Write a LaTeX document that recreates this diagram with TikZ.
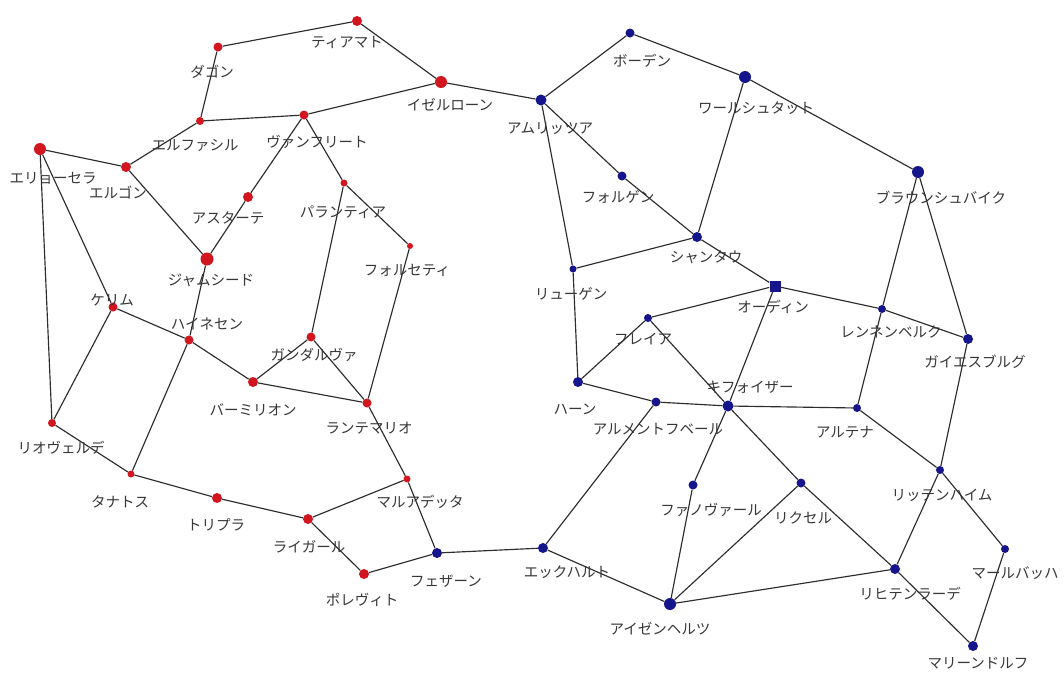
\documentclass[tikz,border=0pt]{standalone}
\usepackage{fontspec}
\newfontfamily\jp{Noto Sans CJK JP}
\definecolor{nred}{RGB}{210,22,32}
\definecolor{nblue}{RGB}{22,22,140}
\definecolor{edgec}{RGB}{45,45,45}
\definecolor{labc}{RGB}{55,55,55}
\begin{document}
\begin{tikzpicture}[x=1pt,y=-1pt,
  dot/.style={circle,inner sep=0pt,draw=none},
  R/.style={dot,fill=nred,minimum size=#1},
  B/.style={dot,fill=nblue,minimum size=#1},
  BS/.style={rectangle,inner sep=0pt,draw=none,fill=nblue,minimum size=#1},
  lab/.style={inner sep=0pt,font=\jp\fontsize{14.5}{15}\selectfont,text=labc},
  edge/.style={draw=edgec,line width=1.15pt}]
\useasboundingbox[fill=white] (0,0) rectangle (1064,673);
% red nodes
\node[R=10pt] (ti) at (357,21) {};
\node[R=9pt]  (da) at (218,47) {};
\node[R=12pt] (iz) at (441,82) {};
\node[R=8pt]  (ef) at (200,121) {};
\node[R=9pt]  (va) at (304,115) {};
\node[R=12pt] (er) at (40,149) {};
\node[R=10pt] (eg) at (126,167) {};
\node[R=10pt] (as) at (248,197) {};
\node[R=7pt]  (pa) at (344,183) {};
\node[R=6pt]  (fo) at (410,246) {};
\node[R=13pt] (ja) at (207,259) {};
\node[R=9pt]  (ke) at (113,307) {};
\node[R=9pt]  (ha) at (189,340) {};
\node[R=9pt]  (ga) at (311,337) {};
\node[R=10pt] (ba) at (253,382) {};
\node[R=9pt]  (ra) at (367,403) {};
\node[R=8pt]  (ri) at (52,423) {};
\node[R=7pt]  (ta) at (131,474) {};
\node[R=10pt] (tr) at (217,498) {};
\node[R=7pt]  (ma) at (407,479) {};
\node[R=10pt] (lg) at (308,519) {};
\node[R=10pt] (po) at (364,574) {};
% blue nodes
\node[B=10pt] (fe) at (437,553) {};
\node[B=9pt]  (bo) at (630,33) {};
\node[B=12pt] (wa) at (745,77) {};
\node[B=11pt] (am) at (541,100) {};
\node[B=9pt]  (fg) at (622,176) {};
\node[B=12pt] (br) at (918,172) {};
\node[B=10pt] (sh) at (697,237) {};
\node[B=7pt]  (ry) at (573,269) {};
\node[BS=11pt] (od) at (775,286) {};
\node[B=8pt]  (fr) at (648,318) {};
\node[B=8pt]  (re) at (882,309) {};
\node[B=10pt] (gy) at (968,339) {};
\node[B=10pt] (hn) at (578,382) {};
\node[B=9pt]  (al) at (656,402) {};
\node[B=11pt] (ki) at (728,406) {};
\node[B=8pt]  (at) at (857,408) {};
\node[B=8pt]  (rh) at (940,470) {};
\node[B=9pt]  (fn) at (693,485) {};
\node[B=9pt]  (rk) at (801,483) {};
\node[B=10pt] (ek) at (543,548) {};
\node[B=8pt]  (mb) at (1005,549) {};
\node[B=12pt] (ai) at (670,604) {};
\node[B=10pt] (rt) at (895,569) {};
\node[B=10pt] (mr) at (973,646) {};
% edges
\foreach \a/\b in {da/ti,ti/iz,da/ef,ef/va,va/iz,ef/eg,er/eg,eg/ja,va/as,as/ja,va/pa,pa/fo,pa/ga,fo/ra,ja/ha,er/ke,er/ri,ke/ri,ke/ha,ha/ba,ha/ta,ba/ga,ba/ra,ga/ra,ri/ta,ta/tr,tr/lg,lg/ma,ra/ma,ma/fe,lg/po,po/fe,iz/am,
  fe/ek,ek/al,ek/ai,am/bo,bo/wa,wa/br,wa/sh,am/fg,fg/sh,am/ry,ry/sh,ry/hn,sh/od,od/fr,od/re,od/ki,fr/hn,fr/ki,hn/al,al/ki,ki/at,ki/fn,ki/rk,rk/rt,rk/ai,fn/ai,ai/rt,rt/mr,mr/mb,mb/rh,rh/rt,rh/at,rh/gy,at/re,re/br,re/gy,br/gy}
  \draw[edge] (\a) -- (\b);
% labels
\node[lab] (l-ti) at (347,42) {ティアマト};
\node[lab] (l-da) at (212,72) {ダゴン};
\node[lab] (l-iz) at (450,105) {イゼルローン};
\node[lab] (l-ef) at (195,145) {エルファシル};
\node[lab] (l-va) at (317,142) {ヴァンフリート};
\node[lab] (l-er) at (53,178) {エリョーセラ};
\node[lab] (l-eg) at (118,193) {エルゴン};
\node[lab] (l-as) at (228,218) {アスターテ};
\node[lab] (l-pa) at (343,212) {パランティア};
\node[lab] (l-fo) at (407,270) {フォルセティ};
\node[lab] (l-ja) at (211,280) {ジャムシード};
\node[lab] (l-ke) at (112,300) {ケリム};
\node[lab] (l-ha) at (207,324) {ハイネセン};
\node[lab] (l-ga) at (314,355) {ガンダルヴァ};
\node[lab] (l-ba) at (253,410) {バーミリオン};
\node[lab] (l-ra) at (369,428) {ランテマリオ};
\node[lab] (l-ri) at (61,448) {リオヴェルデ};
\node[lab] (l-ta) at (120,502) {タナトス};
\node[lab] (l-tr) at (216,525) {トリプラ};
\node[lab] (l-ma) at (420,502) {マルアデッタ};
\node[lab] (l-lg) at (309,547) {ライガール};
\node[lab] (l-po) at (362,600) {ポレヴィト};
\node[lab] (l-fe) at (446,581) {フェザーン};
\node[lab] (l-bo) at (642,61) {ボーデン};
\node[lab] (l-wa) at (756,108) {ワールシュタット};
\node[lab] (l-am) at (550,128) {アムリッツア};
\node[lab] (l-fg) at (618,197) {フォルゲン};
\node[lab] (l-br) at (941,198) {ブラウンシュバイク};
\node[lab] (l-sh) at (706,257) {シャンタウ};
\node[lab] (l-ry) at (571,294) {リューゲン};
\node[lab] (l-od) at (773,307) {オーディン};
\node[lab] (l-fr) at (643,339) {フレイア};
\node[lab] (l-re) at (891,332) {レンネンベルク};
\node[lab] (l-gy) at (975,362) {ガイエスブルグ};
\node[lab] (l-hn) at (575,409) {ハーン};
\node[lab] (l-al) at (658,429) {アルメントフベール};
\node[lab] (l-ki) at (750,387) {キフォイザー};
\node[lab] (l-at) at (845,432) {アルテナ};
\node[lab] (l-rh) at (942,495) {リッテンハイム};
\node[lab] (l-fn) at (711,510) {ファノヴァール};
\node[lab] (l-rk) at (803,518) {リクセル};
\node[lab] (l-ek) at (567,572) {エックハルト};
\node[lab] (l-mb) at (1015,573) {マールバッハ};
\node[lab] (l-ai) at (660,629) {アイゼンヘルツ};
\node[lab] (l-rt) at (910,594) {リヒテンラーデ};
\node[lab] (l-mr) at (978,663) {マリーンドルフ};
\end{tikzpicture}
\end{document}
